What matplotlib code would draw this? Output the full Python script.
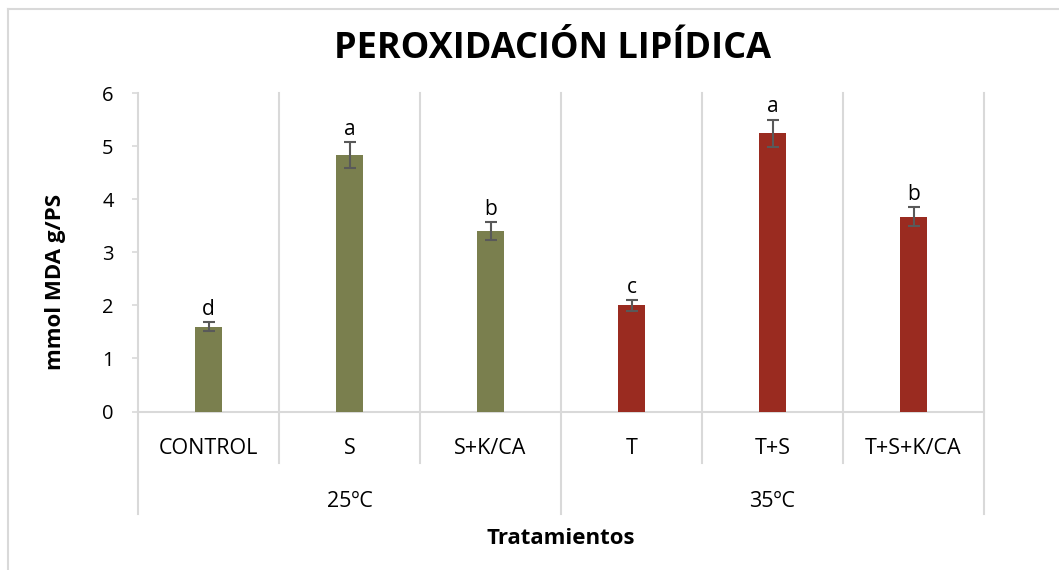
import numpy as np
import matplotlib
matplotlib.use("Agg")
import matplotlib.pyplot as plt
from matplotlib.lines import Line2D

plt.rcParams["font.family"] = ["Open Sans", "DejaVu Sans"]

categories = ["CONTROL", "S", "S+K/CA", "T", "T+S", "T+S+K/CA"]
groups = ["25ºC", "35ºC"]
group_sizes = [3, 3]
means = [1.60, 4.83, 3.40, 2.00, 5.24, 3.67]
errors = [0.08, 0.24, 0.17, 0.10, 0.26, 0.18]
letters = ["d", "a", "b", "c", "a", "b"]
yticks = [0, 1, 2, 3, 4, 5, 6]

green = "#7A7F4E"
red = "#9A2B20"
grid_c = "#D9D9D9"
colors = [green] * 3 + [red] * 3

W, H = 1059, 570
fig = plt.figure(figsize=(W / 100, H / 100), dpi=100)

# axes in pixel coordinates of the reference
left, right, top, bottom = 138, 984, 93, 411.5
ax = fig.add_axes([left / W, 1 - bottom / H, (right - left) / W, (bottom - top) / H])

x = np.arange(len(categories))
ax.bar(x, means, width=0.185, color=colors, zorder=3)
ax.errorbar(x, means, yerr=errors, fmt="none", ecolor="#595959",
            elinewidth=1.5, capsize=4.5, capthick=1.5, zorder=4)
for xi, m, e, lab in zip(x, means, errors, letters):
    ax.annotate(lab, (xi, m + e), xytext=(0, 1.5), textcoords="offset points",
                ha="center", va="bottom", fontsize=15)

ax.set_xlim(-0.5, len(categories) - 0.5)
ax.set_ylim(0, 6)
ax.set_yticks(yticks)
ax.tick_params(axis="y", length=4.5, color=grid_c, width=1.2, labelsize=14.5, pad=13)
ax.set_xticks([])
for s in ["top", "right", "left"]:
    ax.spines[s].set_visible(False)
ax.spines["bottom"].set_color(grid_c)
ax.spines["bottom"].set_linewidth(1.5)

def ypix(py):
    # reference pixel row -> axes fraction
    return (bottom - py) / (bottom - top)

# vertical separators: category lines go a bit below the axis, group lines further
tr = ax.get_xaxis_transform()
bounds = np.arange(len(categories) + 1) - 0.5
grp_edges = np.concatenate([[0], np.cumsum(group_sizes)]) - 0.5
for b in bounds:
    y0 = ypix(514) if b in grp_edges else ypix(463)
    ax.add_line(Line2D([b, b], [y0, 1], transform=tr, color=grid_c,
                       lw=1.5, clip_on=False, zorder=1))

for xi, c in zip(x, categories):
    ax.text(xi, ypix(454), c, transform=tr, ha="center", va="baseline", fontsize=15.5)

for i, g in enumerate(groups):
    mid = (grp_edges[i] + grp_edges[i + 1]) / 2
    ax.text(mid, ypix(507), g, transform=tr, ha="center", va="baseline", fontsize=15.5)

fig.text(552 / W, 1 - 58 / H, "PEROXIDACIÓN LIPÍDICA", ha="center", va="baseline",
         fontsize=26, fontweight="bold")
fig.text(561 / W, 1 - 544 / H, "Tratamientos", ha="center", va="baseline",
         fontsize=16, fontweight="bold")
fig.text(55 / W, 1 - 282 / H, "mmol MDA g/PS", ha="center", va="center",
         rotation=90, fontsize=16, fontweight="bold")

# outer chart frame (only left and top visible in the crop)
fig.add_artist(Line2D([8 / W, 8 / W], [0, 1 - 9 / H], transform=fig.transFigure,
                      color=grid_c, lw=1.5))
fig.add_artist(Line2D([8 / W, 1], [1 - 9 / H, 1 - 9 / H], transform=fig.transFigure,
                      color=grid_c, lw=1.5))

fig.savefig("out.png", dpi=100)
